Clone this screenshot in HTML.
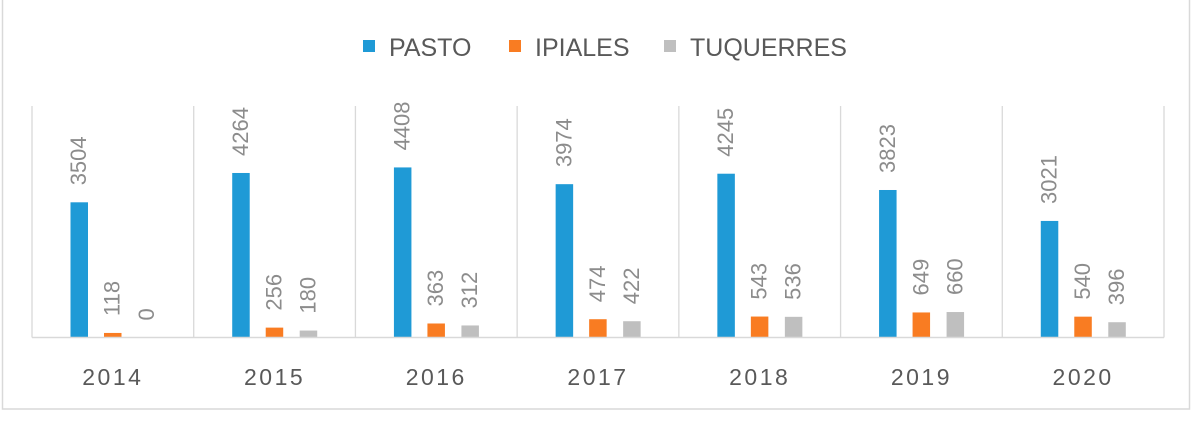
<!DOCTYPE html>
<html><head><meta charset="utf-8"><style>
body{margin:0;background:#fff;}
svg text{font-family:"Liberation Sans",sans-serif;}
</style></head><body>
<svg id="chart" width="1200" height="427" xmlns="http://www.w3.org/2000/svg">
<rect x="2.5" y="-1" width="1187" height="410" fill="#fff" stroke="#d9d9d9" stroke-width="1.5"/>
<g>
<g><rect x="363" y="40" width="12" height="12" fill="#1f9ad6"/><text x="389" y="56" font-size="25" fill="#595959">PASTO</text></g>
<g><rect x="509" y="40" width="12" height="12" fill="#f97c22"/><text x="535" y="56" font-size="25" fill="#595959">IPIALES</text></g>
<g><rect x="664" y="40" width="12" height="12" fill="#bfbfbf"/><text x="690" y="56" font-size="25" fill="#595959">TUQUERRES</text></g>
</g>
<g id="grid"></g>
<g id="bars"></g>
<g id="labels"></g>
<g id="xaxis"></g>
</svg>
<script>
const categories = ["2014","2015","2016","2017","2018","2019","2020"];
const pasto = [3504,4264,4408,3974,4245,3823,3021];
const ipiales = [118,256,363,474,543,649,540];
const tuquerres = [0,180,312,422,536,660,396];
const seriesColors = ["#1f9ad6","#f97c22","#bfbfbf"];
const seriesNames = ["pasto","ipiales","tuquerres"];
const series = [pasto, ipiales, tuquerres];
const plotLeft=32, plotRight=1164, base=337.5, plotTop=106, vmax=6000;
const cw=(plotRight-plotLeft)/categories.length;
const yScale=v=>base-(v/vmax)*(base-plotTop);
const NS="http://www.w3.org/2000/svg";
function mk(t,a,p){const e=document.createElementNS(NS,t);for(const k in a)e.setAttribute(k,a[k]);p.appendChild(e);return e;}
const grid=document.getElementById('grid'),bars=document.getElementById('bars'),labels=document.getElementById('labels'),xaxis=document.getElementById('xaxis');
for(let i=0;i<=categories.length;i++){
  const l=mk('line',{x1:plotLeft+i*cw,x2:plotLeft+i*cw,y1:plotTop,y2:base,stroke:'#d9d9d9','stroke-width':1.3},grid);
  
  
}
const ax=mk('line',{x1:plotLeft,x2:plotRight,y1:base,y2:base,stroke:'#d9d9d9','stroke-width':1.5},xaxis);


const offs=[38.5,72,106], bw=17.5;
categories.forEach((c,i)=>{
  const x0=plotLeft+i*cw;
  series.forEach((s,j)=>{
    const v=s[i], bx=x0+offs[j], by=yScale(v);
    const r=mk('rect',{x:bx,y:by,width:bw,height:base-by,fill:seriesColors[j]},bars);
    
    
    const cx=bx+bw/2+7, ty=by-17;
    const t=mk('text',{x:cx,y:ty,'font-size':22,fill:'#8c8c8c',transform:`rotate(-90 ${cx} ${ty})`},labels);
    t.textContent=v;
    
    
  });
  const t=mk('text',{x:x0+cw/2,y:385,'font-size':23,fill:'#595959','text-anchor':'middle','letter-spacing':'2.5'},xaxis);
  t.textContent=c;
  
  
});
</script>
</body></html>
